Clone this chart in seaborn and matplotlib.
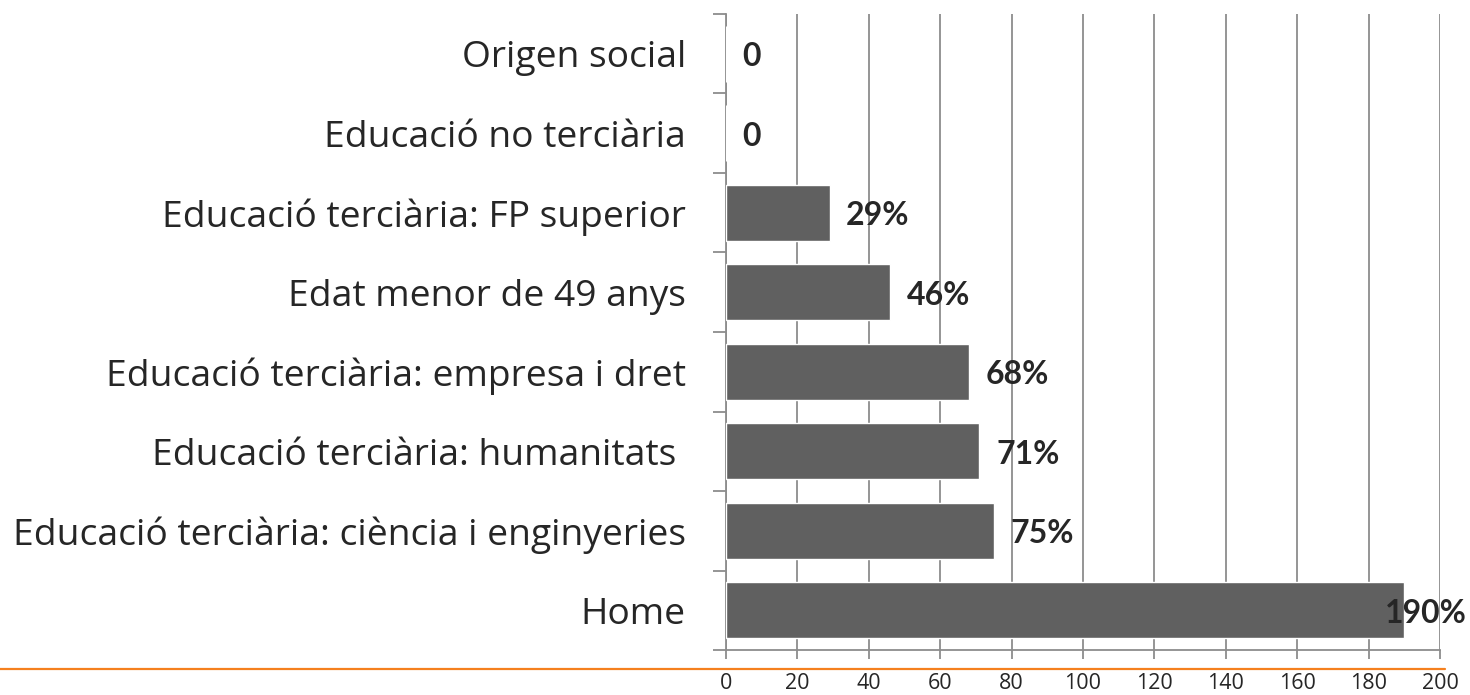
import matplotlib
matplotlib.use("Agg")
import matplotlib.pyplot as plt
from matplotlib.lines import Line2D
from matplotlib.ticker import FixedLocator
import pandas as pd
import seaborn as sns

categories = [
    "Origen social",
    "Educació no terciària",
    "Educació terciària: FP superior",
    "Edat menor de 49 anys",
    "Educació terciària: empresa i dret",
    "Educació terciària: humanitats ",
    "Educació terciària: ciència i enginyeries",
    "Home",
]
values = [0, 0, 29, 46, 68, 71, 75, 190]
value_labels = ["0", "0", "29%", "46%", "68%", "71%", "75%", "190%"]
x_ticks = [0, 20, 40, 60, 80, 100, 120, 140, 160, 180, 200]

df = pd.DataFrame({"category": categories, "value": values})

sns.set_style("white")
plt.rcParams["font.family"] = ["Open Sans", "DejaVu Sans"]

fig = plt.figure(figsize=(14.7, 6.95), dpi=100)
ax = fig.add_axes([0.4939, 0.0647, 0.4857, 0.9152])

sns.barplot(data=df, x="value", y="category", orient="h", color="#606060",
            saturation=1, width=0.7, ax=ax, zorder=3)

ax.set_xlim(0, 200)
ax.set_ylim(len(categories) - 0.5, -0.5)
ax.set_xticks(x_ticks)
ax.set_xticklabels([str(t) for t in x_ticks], fontsize=15.5)
ax.set_xlabel("")
ax.set_ylabel("")
for t in ax.get_yticklabels():
    t.set_fontsize(26.8)

ax.grid(axis="x", color="#8c8c8c", linewidth=1.3, zorder=0)
ax.grid(axis="y", visible=False)
for side in ["top", "right"]:
    ax.spines[side].set_visible(False)
for side in ["left", "bottom"]:
    ax.spines[side].set_color("#8c8c8c")
    ax.spines[side].set_linewidth(1.3)

ax.tick_params(axis="x", length=6.5, width=1.3, color="#8c8c8c", pad=10,
               direction="out", bottom=True)
ax.tick_params(axis="y", which="major", length=0, pad=29)
ax.yaxis.set_minor_locator(FixedLocator([i - 0.5 for i in range(len(categories) + 1)]))
ax.tick_params(axis="y", which="minor", length=9.5, width=1.3, color="#8c8c8c",
               direction="out", left=True)

for i, (v, lab) in enumerate(zip(values, value_labels)):
    if v > 180:
        ax.annotate(lab, xy=(1.0, i), xycoords=("axes fraction", "data"),
                    xytext=(19, -2), textcoords="offset points",
                    ha="right", va="center", fontsize=23, fontweight="bold",
                    family=["Lato", "DejaVu Sans"], zorder=5)
    else:
        ax.annotate(lab, xy=(v, i), xytext=(12, -2), textcoords="offset points",
                    ha="left", va="center", fontsize=23, fontweight="bold",
                    family=["Lato", "DejaVu Sans"], zorder=5)

fig.add_artist(Line2D([0.0, 0.983], [0.0374, 0.0374], transform=fig.transFigure,
                      color="#f5801e", linewidth=1.6))

fig.savefig("out.png", dpi=100)
